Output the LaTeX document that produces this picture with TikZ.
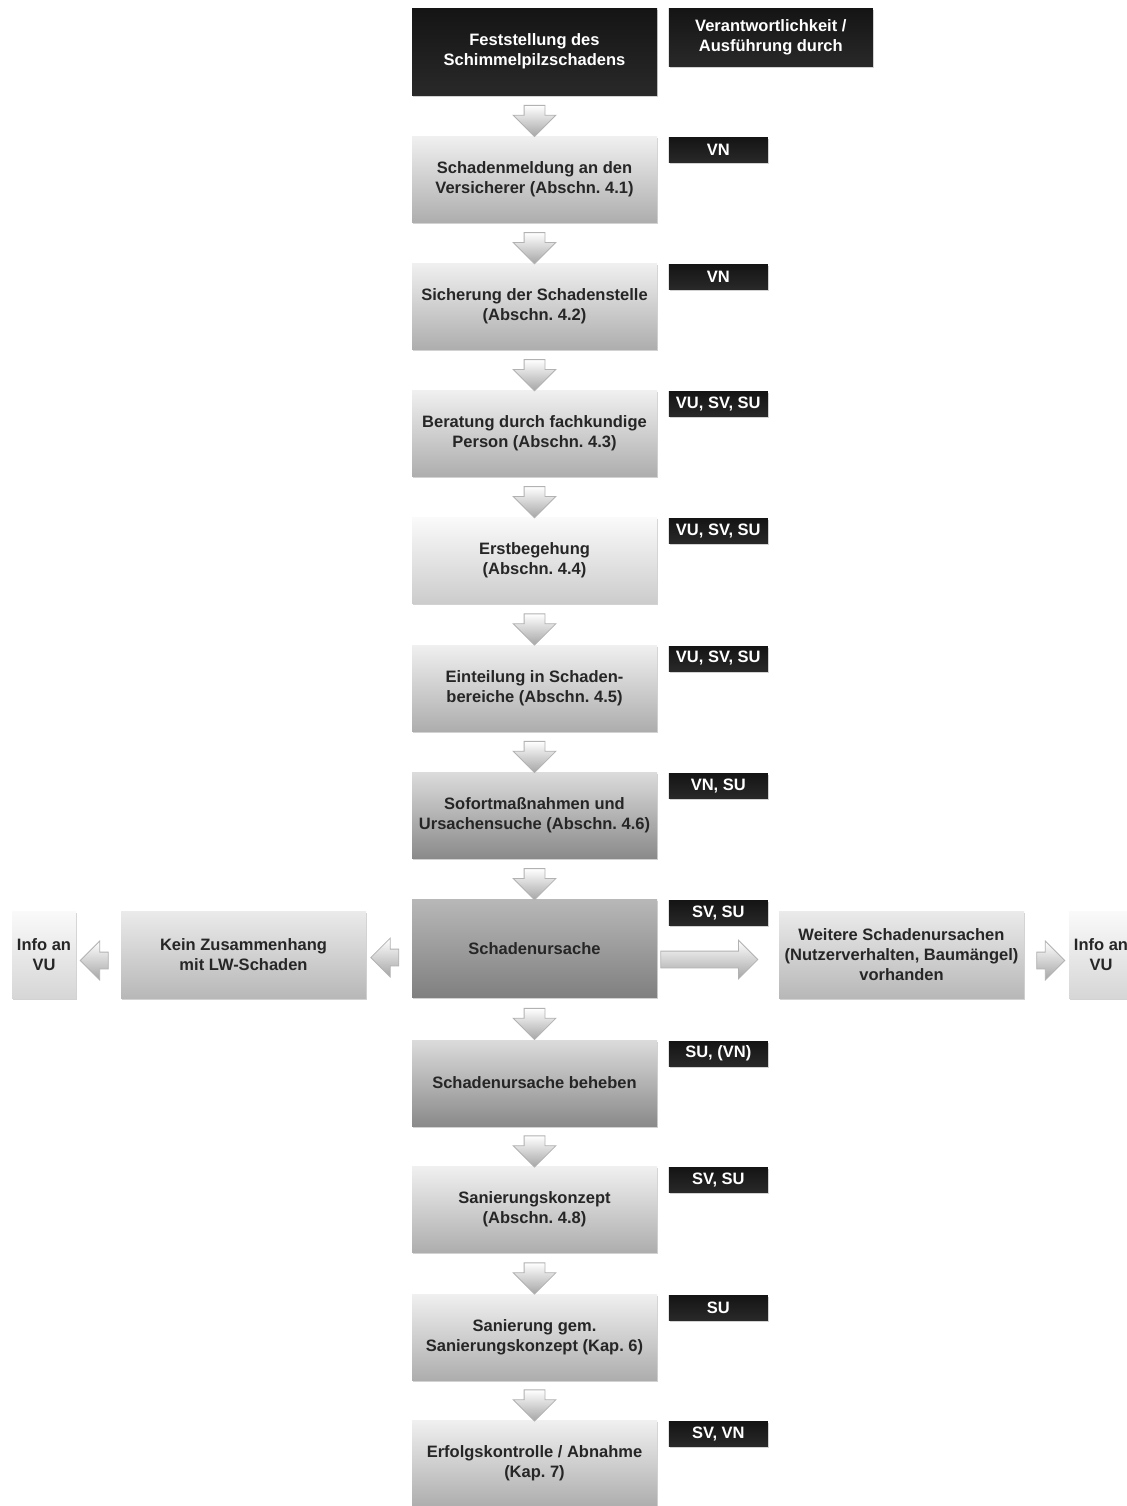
\documentclass[tikz,border=0pt]{standalone}
\usepackage{fontspec}
\setmainfont{Liberation Sans}
\usetikzlibrary{calc,shapes.arrows,shadows}
\pgfdeclareverticalshading{darkshade}{100bp}{color(0bp)=(black!84); color(25bp)=(black!84);
  color(75bp)=(black!92); color(88bp)=(black!88); color(100bp)=(black!55)}
\tikzset{
  box/.style={rectangle, minimum width=122.5pt, minimum height=43pt, inner sep=2pt,
    align=center, text=black!85, font=\bfseries\fontsize{8.25}{9.8}\selectfont,
    drop shadow={shadow xshift=0.6pt, shadow yshift=-0.9pt, opacity=0.35}},
  lightbox/.style={box, top color=black!6, bottom color=black!32},
  palebox/.style={box, top color=black!2, bottom color=black!20},
  greybox/.style={box, top color=black!14, bottom color=black!46},
  causebox/.style={box, minimum height=49pt, top color=black!28, bottom color=black!50},
  sidebox/.style={box, top color=black!8, bottom color=black!28},
  infobox/.style={box, minimum width=32pt, minimum height=43.5pt, inner sep=0.5pt,
    top color=black!2, bottom color=black!16},
  darkbox/.style={box, text=white, shading=darkshade},
  tagbox/.style={darkbox, minimum width=49.5pt, minimum height=12.5pt, inner sep=1pt},
  blockarrow/.style={single arrow, draw=black!30, inner sep=5pt, minimum height=15pt,
    minimum width=21pt, single arrow head extend=5.5pt, top color=white, bottom color=black!35},
  sidearrow/.style={blockarrow, inner sep=4pt, minimum height=14pt, minimum width=19pt,
    single arrow head extend=5.5pt},
}
\frenchspacing
\begin{document}
\begin{tikzpicture}[x=0.5pt,y=-0.5pt]
\path[use as bounding box, fill=white] (0,0) rectangle (1127,1506);
% main column
\node[darkbox, minimum height=43.5pt] (fs) at (534.5,51.5) {Feststellung des\\Schimmelpilzschadens};
\node[darkbox, minimum width=102pt, minimum height=29pt, anchor=north west]
  (resp) at ([xshift=5.5pt]fs.north east) {Verantwortlichkeit /\\Ausführung durch};
\node[lightbox] (meld) at (534.5,179.5) {Schadenmeldung an den\\Versicherer (Abschn. 4.1)};
\node[lightbox] (sich) at (534.5,306.5) {Sicherung der Schadenstelle\\(Abschn. 4.2)};
\node[lightbox] (ber) at (534.5,433.5) {Beratung durch fachkundige\\Person (Abschn. 4.3)};
\node[palebox] (erst) at (534.5,560.5) {Erstbegehung\\(Abschn. 4.4)};
\node[lightbox] (eint) at (534.5,688) {Einteilung in Schaden-\\bereiche (Abschn. 4.5)};
\node[greybox] (sof) at (534.5,815.5) {Sofortmaßnahmen und\\Ursachensuche (Abschn. 4.6)};
\node[causebox] (ursache) at (534.5,948.5) {Schadenursache};
\node[greybox] (beh) at (534.5,1083) {Schadenursache beheben};
\node[lightbox] (konz) at (534.5,1209.5) {Sanierungskonzept\\(Abschn. 4.8)};
\node[lightbox] (san) at (534.5,1337) {Sanierung gem.\\Sanierungskonzept (Kap. 6)};
\node[lightbox] (erf) at (534.5,1463.5) {Erfolgskontrolle / Abnahme\\(Kap. 7)};
% side branches
\node[sidebox, minimum height=43.5pt] (kein) at (243.5,954.5) {Kein Zusammenhang\\mit LW-Schaden};
\node[infobox] (infol) at (44,954.5) {Info an\\VU};
\node[sidebox, minimum height=43.5pt] (weit) at (901.5,954.5) {Weitere Schadenursachen\\(Nutzerverhalten, Baumängel)\\vorhanden};
\node[infobox] (infor) at (1101,954.5) {Info an\\VU};
% responsibilities
\foreach \b/\t in {meld/VN, sich/VN, ber/{VU, SV, SU}, erst/{VU, SV, SU}, eint/{VU, SV, SU},
    sof/{VN, SU}, ursache/{SV, SU}, beh/{SU, (VN)}, konz/{SV, SU}, san/SU, erf/{SV, VN}}
  \node[tagbox, anchor=north west] (t\b) at ([xshift=5.5pt,yshift=-0.5pt]\b.north east) {\t};
% arrows
\foreach \a/\b in {fs/meld, meld/sich, sich/ber, ber/erst, erst/eint, eint/sof,
    sof/ursache, ursache/beh, beh/konz, konz/san, san/erf}
  \node[blockarrow, shape border rotate=270] at ($(\a.south)!0.5!(\b.north)$) {};
\node[sidearrow, shape border rotate=180] (al1) at ([yshift=-3pt]$(kein.east)!0.5!(ursache.west)$) {};
\node[sidearrow, shape border rotate=180] (al2) at ([yshift=-3pt]$(infol.east)!0.5!(kein.west)$) {};
\node[sidearrow] (ar2) at ([yshift=-3pt]$(weit.east)!0.5!(infor.west)$) {};
\node[sidearrow, anchor=tail, minimum height=48.5pt] (ar1) at ([xshift=1.5pt,yshift=-5.5pt]ursache.east) {};
\end{tikzpicture}
\end{document}
